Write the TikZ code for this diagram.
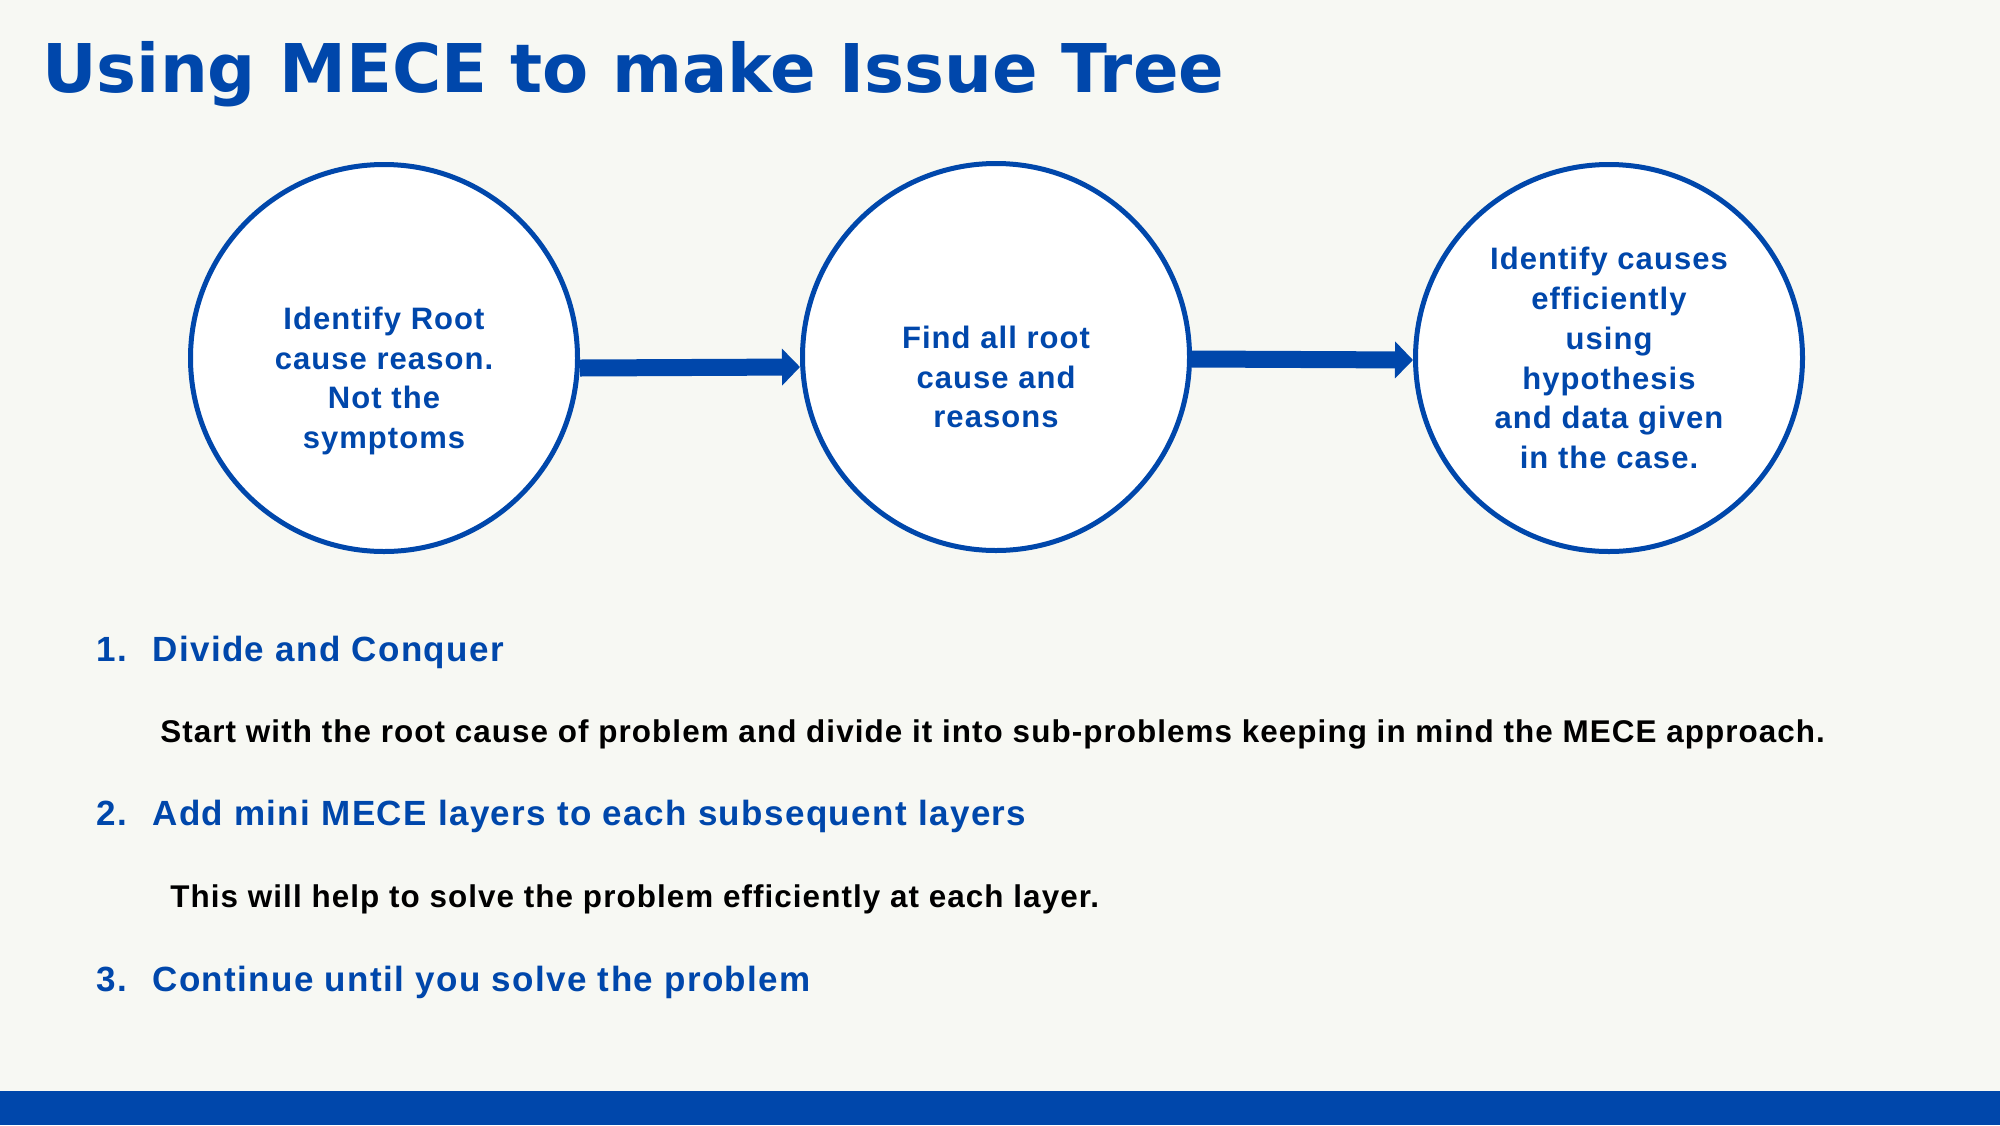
\documentclass[tikz,border=0pt]{standalone}
\usepackage{fontspec}
\setmainfont{Liberation Sans}[LetterSpace=3.4]
\newfontfamily\mctitlefont{DejaVu Sans}
\newfontfamily\mcheadfont{Liberation Sans}[LetterSpace=4.0]
\usepackage{tikz}
\usetikzlibrary{arrows.meta,positioning}
\definecolor{mcblue} {HTML}{0047AB}
\definecolor{mcpaper}{HTML}{F7F8F3}
\definecolor{mcink}  {HTML}{000000}
\tikzset{
  mccircle/.style={circle, draw=mcblue, line width=2.5pt, fill=white,
                   minimum size=193.5pt, inner sep=0pt},
  mcinside/.style={align=center, text=mcblue, inner sep=0pt,
                   font=\bfseries\fontsize{15.5}{19.95}\selectfont},
  mcarrow/.style={-{Triangle[length=9pt,width=18pt]}, draw=mcblue, line width=8.5pt},
  mctitle/.style={anchor=base west, inner sep=0pt, text=mcblue,
                  font=\mctitlefont\bfseries\fontsize{33.6}{40}\selectfont},
  mchead/.style={anchor=base west, inner sep=0pt, text=mcblue,
                 font=\mcheadfont\bfseries\fontsize{17.5}{20}\selectfont},
  mcbody/.style={anchor=base west, inner sep=0pt, text=mcink,
                 font=\bfseries\fontsize{15.7}{19}\selectfont},
}

\begin{document}
\begin{tikzpicture}[x=0.5pt,y=-0.5pt]
  \useasboundingbox (0,0) rectangle (2000,1125);
  \fill[mcpaper] (0,0) rectangle (2000,1125);
  \fill[mcblue] (0,1091) rectangle (2000,1125);

  \node[mctitle] (title) at (42,92) {Using MECE to make Issue Tree};

  % the three steps
  \node[mccircle] (c1) at (384,358) {};
  \node[mccircle] (c2) at (996,357) {};
  \node[mccircle] (c3) at (1609,358) {};
  \node[mcinside] (t1) at ([yshift=-11.5pt]c1.center)
    {Identify Root\\cause reason.\\Not the\\symptoms};
  \node[mcinside] (t2) at ([yshift=-10pt]c2.center)
    {Find all root\\cause and\\reasons};
  \node[mcinside] (t3) at (c3.center)
    {Identify causes\\efficiently\\using\\hypothesis\\and data given\\in the case.};
  \draw[mcarrow] ([yshift=-5pt]c1.east) -- ([yshift=-5pt]c2.west);
  \draw[mcarrow] ([yshift=-1pt]c2.east) -- ([yshift=-1pt]c3.west);

  % numbered points
  \node[mchead] (n1) at (96,661) {1.};
  \node[mchead] (h1) at (152,661) {Divide and Conquer};
  \node[mcbody] (b1) at (160,742)
    {Start with the root cause of problem and divide it into sub-problems keeping in mind the MECE approach.};
  \node[mchead] (n2) at (96,825) {2.};
  \node[mchead] (h2) at (152,825) {Add mini MECE layers to each subsequent layers};
  \node[mcbody] (b2) at (170,907)
    {This will help to solve the problem efficiently at each layer.};
  \node[mchead] (n3) at (96,991) {3.};
  \node[mchead] (h3) at (152,991) {Continue until you solve the problem};
\end{tikzpicture}
\end{document}
